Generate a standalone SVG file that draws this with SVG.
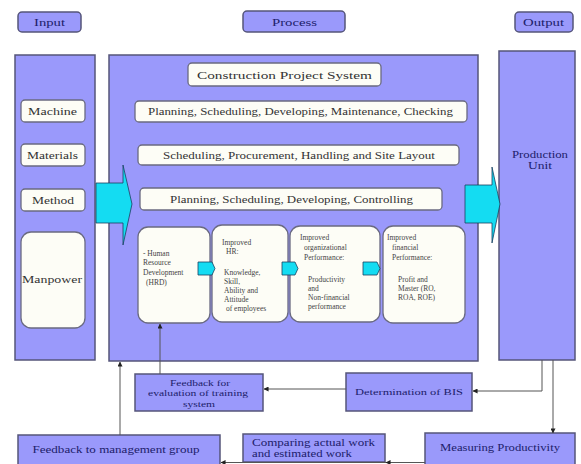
<svg xmlns="http://www.w3.org/2000/svg" width="581" height="464" viewBox="0 0 581 464">
<style>
.lav{fill:#9a99fb;stroke:#55557a;stroke-width:1.5}
.wht{fill:#fdfdf6;stroke:#6a6a80;stroke-width:1.3}
.cy{fill:#14dcf2;stroke:#1a4060;stroke-width:0.8}
.t{font-family:"Liberation Serif",serif;font-size:10px;fill:#333}
.tn{font-family:"Liberation Serif",serif;font-size:9.5px;fill:#20206a}
.s{font-family:"Liberation Serif",serif;font-size:7.5px;fill:#444}
.c{text-anchor:middle}
.ln{stroke:#555;stroke-width:1;fill:none}
</style>
<defs>
<marker id="ah" viewBox="0 0 6 6" refX="5.5" refY="3" markerWidth="5" markerHeight="5" orient="auto">
<path d="M0,0 L6,3 L0,6 z" fill="#222"/>
</marker>
</defs>
<rect width="581" height="464" fill="#ffffff"/>

<g id="hdr-input"><rect class="lav" x="18" y="12" width="63" height="20" rx="4"/><text class="tn c" x="49.5" y="25.5" textLength="31" lengthAdjust="spacingAndGlyphs">Input</text></g>
<g id="hdr-process"><rect class="lav" x="243" y="11" width="102" height="21" rx="4"/><text class="tn c" x="294.5" y="25.5" textLength="45" lengthAdjust="spacingAndGlyphs">Process</text></g>
<g id="hdr-output"><rect class="lav" x="515" y="12" width="58" height="20" rx="4"/><text class="tn c" x="543.5" y="25.5" textLength="41" lengthAdjust="spacingAndGlyphs">Output</text></g>

<g id="input-col"><rect class="lav" x="15" y="55" width="80" height="305"/></g>
<g id="process-box"><rect class="lav" x="109" y="55" width="369" height="306"/></g>
<g id="output-col"><rect class="lav" x="499" y="51" width="76" height="309"/>
<text class="tn c" x="540" y="158" textLength="56" lengthAdjust="spacingAndGlyphs">Production</text>
<text class="tn c" x="540" y="169" textLength="24" lengthAdjust="spacingAndGlyphs">Unit</text></g>

<g id="machine"><rect class="wht" x="21" y="100" width="64" height="22" rx="4"/><text class="t c" x="52.5" y="114.5" textLength="49" lengthAdjust="spacingAndGlyphs">Machine</text></g>
<g id="materials"><rect class="wht" x="21" y="144" width="64" height="22" rx="4"/><text class="t c" x="52.5" y="158.5" textLength="51" lengthAdjust="spacingAndGlyphs">Materials</text></g>
<g id="method"><rect class="wht" x="21" y="189" width="64" height="22" rx="4"/><text class="t c" x="53" y="203.5" textLength="42" lengthAdjust="spacingAndGlyphs">Method</text></g>
<g id="manpower"><rect class="wht" x="21" y="232" width="64" height="96" rx="10"/><text class="t c" x="52" y="283" textLength="60" lengthAdjust="spacingAndGlyphs">Manpower</text></g>

<g id="cps"><rect class="wht" x="188" y="63" width="193" height="23" rx="4"/><text class="t c" x="284.5" y="78.5" textLength="175" lengthAdjust="spacingAndGlyphs" style="font-size:11px">Construction Project System</text></g>
<g id="row1"><rect class="wht" x="135" y="101" width="332" height="21" rx="4"/><text class="t c" x="300.5" y="115" textLength="305" lengthAdjust="spacingAndGlyphs">Planning, Scheduling, Developing, Maintenance, Checking</text></g>
<g id="row2"><rect class="wht" x="138" y="145" width="321" height="20" rx="4"/><text class="t c" x="299" y="158.5" textLength="272" lengthAdjust="spacingAndGlyphs">Scheduling, Procurement, Handling and Site Layout</text></g>
<g id="row3"><rect class="wht" x="140" y="188" width="302" height="22" rx="4"/><text class="t c" x="291.5" y="202.5" textLength="243" lengthAdjust="spacingAndGlyphs">Planning, Scheduling, Developing, Controlling</text></g>

<g id="hrd"><rect class="wht" x="138" y="227" width="72" height="96" rx="10"/>
<text class="s" x="143" y="256">- Human</text>
<text class="s" x="143" y="265">Resource</text>
<text class="s" x="143" y="275">Development</text>
<text class="s" x="146" y="285">(HRD)</text></g>
<g id="improved-hr"><rect class="wht" x="212" y="225" width="76" height="97" rx="10"/>
<text class="s" x="222" y="245">Improved</text>
<text class="s" x="226" y="254">HR:</text>
<text class="s" x="224" y="275">Knowledge,</text>
<text class="s" x="224" y="284">Skill,</text>
<text class="s" x="224" y="293">Ability and</text>
<text class="s" x="224" y="302">Attitude</text>
<text class="s" x="226" y="311">of employees</text></g>
<g id="improved-org"><rect class="wht" x="290" y="226" width="90" height="96" rx="10"/>
<text class="s" x="300" y="240">Improved</text>
<text class="s" x="304" y="250">organizational</text>
<text class="s" x="304" y="260">Performance:</text>
<text class="s" x="308" y="282">Productivity</text>
<text class="s" x="308" y="291">and</text>
<text class="s" x="308" y="300">Non-financial</text>
<text class="s" x="308" y="309">performance</text></g>
<g id="improved-fin"><rect class="wht" x="383" y="226" width="82" height="97" rx="10"/>
<text class="s" x="387" y="240">Improved</text>
<text class="s" x="392" y="250">financial</text>
<text class="s" x="392" y="260">Performance:</text>
<text class="s" x="398" y="282">Profit and</text>
<text class="s" x="398" y="291">Master (RO,</text>
<text class="s" x="398" y="300">ROA, ROE)</text></g>

<g id="arrow-in"><polygon class="cy" points="96,183 123,183 123,165 132,204 123,245 123,223 96,223"/></g>
<g id="arrow-out"><polygon class="cy" points="465,185 492,185 492,167 500,204 492,243 492,223 465,223"/></g>
<g id="arr-s1"><polygon class="cy" points="198,262 212,262 215,268.5 212,275 198,275"/></g>
<g id="arr-s2"><polygon class="cy" points="282,262 295,262 298,268.5 295,275 282,275"/></g>
<g id="arr-s3"><polygon class="cy" points="363,262 377,262 380,268.5 377,275 363,275"/></g>

<g id="fb-eval"><rect class="lav" x="135" y="374" width="128" height="37"/>
<text class="tn c" x="200" y="386" textLength="60" lengthAdjust="spacingAndGlyphs" style="font-size:8.5px">Feedback for</text>
<text class="tn c" x="198" y="396" textLength="100" lengthAdjust="spacingAndGlyphs" style="font-size:8.5px">evaluation of training</text>
<text class="tn c" x="199" y="406.5" textLength="32" lengthAdjust="spacingAndGlyphs" style="font-size:8.5px">system</text></g>
<g id="det-bis"><rect class="lav" x="346" y="373" width="126" height="38"/><text class="tn c" x="409" y="395" textLength="108" lengthAdjust="spacingAndGlyphs" style="font-size:8.5px">Determination of BIS</text></g>
<g id="fb-mgmt"><rect class="lav" x="18" y="435" width="202" height="30"/><text class="tn c" x="116" y="453" textLength="167" lengthAdjust="spacingAndGlyphs">Feedback to management group</text></g>
<g id="comparing"><rect class="lav" x="243" y="434" width="142" height="28"/>
<text class="tn" x="252" y="446" textLength="123" lengthAdjust="spacingAndGlyphs">Comparing actual work</text>
<text class="tn" x="252" y="457" textLength="100" lengthAdjust="spacingAndGlyphs">and estimated work</text></g>
<g id="measuring"><rect class="lav" x="425" y="433" width="150" height="32"/><text class="tn c" x="500" y="451" textLength="120" lengthAdjust="spacingAndGlyphs">Measuring Productivity</text></g>

<g id="connectors">
<line class="ln" x1="120" y1="435" x2="120" y2="362" marker-end="url(#ah)"/>
<line class="ln" x1="160" y1="374" x2="160" y2="324" marker-end="url(#ah)"/>
<line class="ln" x1="346" y1="389" x2="264" y2="389" marker-end="url(#ah)"/>
<polyline class="ln" points="542,360 542,391 473,391" marker-end="url(#ah)"/>
<line class="ln" x1="553" y1="360" x2="553" y2="433" marker-end="url(#ah)"/>
<line class="ln" x1="425" y1="462.5" x2="386" y2="462.5" marker-end="url(#ah)"/>
<line class="ln" x1="386" y1="462.5" x2="221" y2="462.5" marker-end="url(#ah)"/>
</g>
</svg>
